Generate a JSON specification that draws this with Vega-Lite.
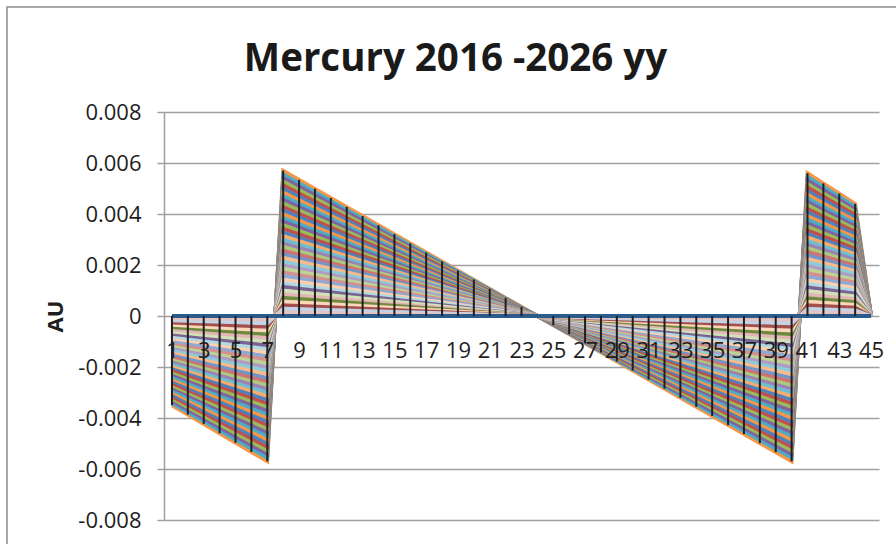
{
"$schema": "https://vega.github.io/schema/vega-lite/v6.json",
"width": 893,
"height": 541,
"autosize": {"type": "none"},
"padding": {"left": 7, "top": 7, "right": -4, "bottom": -4},
"background": "white",
"config": {"view": {"stroke": "#8c8c8c", "strokeWidth": 1.5, "fill": "white"}, "font": "Open Sans"},
"title": {"text": "Mercury 2016 -2026 yy", "font": "Open Sans", "fontSize": 38.5, "fontWeight": "bold", "color": "#1a1a1a", "anchor": "middle", "frame": "group", "offset": -72, "dx": 2},
"datasets": {
"baseline": [{"x":1,"v":0},{"x":45,"v":0}],
"series": [
{"s":"k40","x":1,"v":-0.0035},{"s":"k40","x":7,"v":-0.0057},{"s":"k40","x":8,"v":0.0057},{"s":"k40","x":40,"v":-0.0057},{"s":"k40","x":41,"v":0.0056},{"s":"k40","x":44,"v":0.0044},{"s":"k40","x":45,"v":0},
{"s":"k39","x":1,"v":-0.0034125},{"s":"k39","x":7,"v":-0.0055575},{"s":"k39","x":8,"v":0.0055575},{"s":"k39","x":40,"v":-0.0055575},{"s":"k39","x":41,"v":0.00546},{"s":"k39","x":44,"v":0.00429},{"s":"k39","x":45,"v":0},
{"s":"k38","x":1,"v":-0.003325},{"s":"k38","x":7,"v":-0.005415},{"s":"k38","x":8,"v":0.005415},{"s":"k38","x":40,"v":-0.005415},{"s":"k38","x":41,"v":0.00532},{"s":"k38","x":44,"v":0.00418},{"s":"k38","x":45,"v":0},
{"s":"k37","x":1,"v":-0.0032375},{"s":"k37","x":7,"v":-0.0052725},{"s":"k37","x":8,"v":0.0052725},{"s":"k37","x":40,"v":-0.0052725},{"s":"k37","x":41,"v":0.00518},{"s":"k37","x":44,"v":0.00407},{"s":"k37","x":45,"v":0},
{"s":"k36","x":1,"v":-0.00315},{"s":"k36","x":7,"v":-0.00513},{"s":"k36","x":8,"v":0.00513},{"s":"k36","x":40,"v":-0.00513},{"s":"k36","x":41,"v":0.00504},{"s":"k36","x":44,"v":0.00396},{"s":"k36","x":45,"v":0},
{"s":"k35","x":1,"v":-0.0030625},{"s":"k35","x":7,"v":-0.0049875},{"s":"k35","x":8,"v":0.0049875},{"s":"k35","x":40,"v":-0.0049875},{"s":"k35","x":41,"v":0.0049},{"s":"k35","x":44,"v":0.00385},{"s":"k35","x":45,"v":0},
{"s":"k34","x":1,"v":-0.002975},{"s":"k34","x":7,"v":-0.004845},{"s":"k34","x":8,"v":0.004845},{"s":"k34","x":40,"v":-0.004845},{"s":"k34","x":41,"v":0.00476},{"s":"k34","x":44,"v":0.00374},{"s":"k34","x":45,"v":0},
{"s":"k33","x":1,"v":-0.0028875},{"s":"k33","x":7,"v":-0.0047025},{"s":"k33","x":8,"v":0.0047025},{"s":"k33","x":40,"v":-0.0047025},{"s":"k33","x":41,"v":0.00462},{"s":"k33","x":44,"v":0.00363},{"s":"k33","x":45,"v":0},
{"s":"k32","x":1,"v":-0.0028},{"s":"k32","x":7,"v":-0.00456},{"s":"k32","x":8,"v":0.00456},{"s":"k32","x":40,"v":-0.00456},{"s":"k32","x":41,"v":0.00448},{"s":"k32","x":44,"v":0.00352},{"s":"k32","x":45,"v":0},
{"s":"k31","x":1,"v":-0.0027125},{"s":"k31","x":7,"v":-0.0044175},{"s":"k31","x":8,"v":0.0044175},{"s":"k31","x":40,"v":-0.0044175},{"s":"k31","x":41,"v":0.00434},{"s":"k31","x":44,"v":0.00341},{"s":"k31","x":45,"v":0},
{"s":"k30","x":1,"v":-0.002625},{"s":"k30","x":7,"v":-0.004275},{"s":"k30","x":8,"v":0.004275},{"s":"k30","x":40,"v":-0.004275},{"s":"k30","x":41,"v":0.0042},{"s":"k30","x":44,"v":0.0033},{"s":"k30","x":45,"v":0},
{"s":"k29","x":1,"v":-0.0025375},{"s":"k29","x":7,"v":-0.0041325},{"s":"k29","x":8,"v":0.0041325},{"s":"k29","x":40,"v":-0.0041325},{"s":"k29","x":41,"v":0.00406},{"s":"k29","x":44,"v":0.00319},{"s":"k29","x":45,"v":0},
{"s":"k28","x":1,"v":-0.00245},{"s":"k28","x":7,"v":-0.00399},{"s":"k28","x":8,"v":0.00399},{"s":"k28","x":40,"v":-0.00399},{"s":"k28","x":41,"v":0.00392},{"s":"k28","x":44,"v":0.00308},{"s":"k28","x":45,"v":0},
{"s":"k27","x":1,"v":-0.0023625},{"s":"k27","x":7,"v":-0.0038475},{"s":"k27","x":8,"v":0.0038475},{"s":"k27","x":40,"v":-0.0038475},{"s":"k27","x":41,"v":0.00378},{"s":"k27","x":44,"v":0.00297},{"s":"k27","x":45,"v":0},
{"s":"k26","x":1,"v":-0.002275},{"s":"k26","x":7,"v":-0.003705},{"s":"k26","x":8,"v":0.003705},{"s":"k26","x":40,"v":-0.003705},{"s":"k26","x":41,"v":0.00364},{"s":"k26","x":44,"v":0.00286},{"s":"k26","x":45,"v":0},
{"s":"k25","x":1,"v":-0.0021875},{"s":"k25","x":7,"v":-0.0035625},{"s":"k25","x":8,"v":0.0035625},{"s":"k25","x":40,"v":-0.0035625},{"s":"k25","x":41,"v":0.0035},{"s":"k25","x":44,"v":0.00275},{"s":"k25","x":45,"v":0},
{"s":"k24","x":1,"v":-0.0021},{"s":"k24","x":7,"v":-0.00342},{"s":"k24","x":8,"v":0.00342},{"s":"k24","x":40,"v":-0.00342},{"s":"k24","x":41,"v":0.00336},{"s":"k24","x":44,"v":0.00264},{"s":"k24","x":45,"v":0},
{"s":"k23","x":1,"v":-0.0020125},{"s":"k23","x":7,"v":-0.0032775},{"s":"k23","x":8,"v":0.0032775},{"s":"k23","x":40,"v":-0.0032775},{"s":"k23","x":41,"v":0.00322},{"s":"k23","x":44,"v":0.00253},{"s":"k23","x":45,"v":0},
{"s":"k22","x":1,"v":-0.001925},{"s":"k22","x":7,"v":-0.003135},{"s":"k22","x":8,"v":0.003135},{"s":"k22","x":40,"v":-0.003135},{"s":"k22","x":41,"v":0.00308},{"s":"k22","x":44,"v":0.00242},{"s":"k22","x":45,"v":0},
{"s":"k21","x":1,"v":-0.0018375},{"s":"k21","x":7,"v":-0.0029925},{"s":"k21","x":8,"v":0.0029925},{"s":"k21","x":40,"v":-0.0029925},{"s":"k21","x":41,"v":0.00294},{"s":"k21","x":44,"v":0.00231},{"s":"k21","x":45,"v":0},
{"s":"k20","x":1,"v":-0.00175},{"s":"k20","x":7,"v":-0.00285},{"s":"k20","x":8,"v":0.00285},{"s":"k20","x":40,"v":-0.00285},{"s":"k20","x":41,"v":0.0028},{"s":"k20","x":44,"v":0.0022},{"s":"k20","x":45,"v":0},
{"s":"k19","x":1,"v":-0.0016625},{"s":"k19","x":7,"v":-0.0027075},{"s":"k19","x":8,"v":0.0027075},{"s":"k19","x":40,"v":-0.0027075},{"s":"k19","x":41,"v":0.00266},{"s":"k19","x":44,"v":0.00209},{"s":"k19","x":45,"v":0},
{"s":"k18","x":1,"v":-0.001575},{"s":"k18","x":7,"v":-0.002565},{"s":"k18","x":8,"v":0.002565},{"s":"k18","x":40,"v":-0.002565},{"s":"k18","x":41,"v":0.00252},{"s":"k18","x":44,"v":0.00198},{"s":"k18","x":45,"v":0},
{"s":"k17","x":1,"v":-0.0014875},{"s":"k17","x":7,"v":-0.0024225},{"s":"k17","x":8,"v":0.0024225},{"s":"k17","x":40,"v":-0.0024225},{"s":"k17","x":41,"v":0.00238},{"s":"k17","x":44,"v":0.00187},{"s":"k17","x":45,"v":0},
{"s":"k16","x":1,"v":-0.0014},{"s":"k16","x":7,"v":-0.00228},{"s":"k16","x":8,"v":0.00228},{"s":"k16","x":40,"v":-0.00228},{"s":"k16","x":41,"v":0.00224},{"s":"k16","x":44,"v":0.00176},{"s":"k16","x":45,"v":0},
{"s":"k15","x":1,"v":-0.0013125},{"s":"k15","x":7,"v":-0.0021375},{"s":"k15","x":8,"v":0.0021375},{"s":"k15","x":40,"v":-0.0021375},{"s":"k15","x":41,"v":0.0021},{"s":"k15","x":44,"v":0.00165},{"s":"k15","x":45,"v":0},
{"s":"k14","x":1,"v":-0.001225},{"s":"k14","x":7,"v":-0.001995},{"s":"k14","x":8,"v":0.001995},{"s":"k14","x":40,"v":-0.001995},{"s":"k14","x":41,"v":0.00196},{"s":"k14","x":44,"v":0.00154},{"s":"k14","x":45,"v":0},
{"s":"k13","x":1,"v":-0.0011375},{"s":"k13","x":7,"v":-0.0018525},{"s":"k13","x":8,"v":0.0018525},{"s":"k13","x":40,"v":-0.0018525},{"s":"k13","x":41,"v":0.00182},{"s":"k13","x":44,"v":0.00143},{"s":"k13","x":45,"v":0},
{"s":"k12","x":1,"v":-0.00105},{"s":"k12","x":7,"v":-0.00171},{"s":"k12","x":8,"v":0.00171},{"s":"k12","x":40,"v":-0.00171},{"s":"k12","x":41,"v":0.00168},{"s":"k12","x":44,"v":0.00132},{"s":"k12","x":45,"v":0},
{"s":"k11","x":1,"v":-0.0009625},{"s":"k11","x":7,"v":-0.0015675},{"s":"k11","x":8,"v":0.0015675},{"s":"k11","x":40,"v":-0.0015675},{"s":"k11","x":41,"v":0.00154},{"s":"k11","x":44,"v":0.00121},{"s":"k11","x":45,"v":0},
{"s":"k10","x":1,"v":-0.000875},{"s":"k10","x":7,"v":-0.001425},{"s":"k10","x":8,"v":0.001425},{"s":"k10","x":40,"v":-0.001425},{"s":"k10","x":41,"v":0.0014},{"s":"k10","x":44,"v":0.0011},{"s":"k10","x":45,"v":0},
{"s":"k09","x":1,"v":-0.0007875},{"s":"k09","x":7,"v":-0.0012825},{"s":"k09","x":8,"v":0.0012825},{"s":"k09","x":40,"v":-0.0012825},{"s":"k09","x":41,"v":0.00126},{"s":"k09","x":44,"v":0.00099},{"s":"k09","x":45,"v":0},
{"s":"k08","x":1,"v":-0.0007},{"s":"k08","x":7,"v":-0.00114},{"s":"k08","x":8,"v":0.00114},{"s":"k08","x":40,"v":-0.00114},{"s":"k08","x":41,"v":0.00112},{"s":"k08","x":44,"v":0.00088},{"s":"k08","x":45,"v":0},
{"s":"k07","x":1,"v":-0.0006125},{"s":"k07","x":7,"v":-0.0009975},{"s":"k07","x":8,"v":0.0009975},{"s":"k07","x":40,"v":-0.0009975},{"s":"k07","x":41,"v":0.00098},{"s":"k07","x":44,"v":0.00077},{"s":"k07","x":45,"v":0},
{"s":"k06","x":1,"v":-0.000525},{"s":"k06","x":7,"v":-0.000855},{"s":"k06","x":8,"v":0.000855},{"s":"k06","x":40,"v":-0.000855},{"s":"k06","x":41,"v":0.00084},{"s":"k06","x":44,"v":0.00066},{"s":"k06","x":45,"v":0},
{"s":"k05","x":1,"v":-0.0004375},{"s":"k05","x":7,"v":-0.0007125},{"s":"k05","x":8,"v":0.0007125},{"s":"k05","x":40,"v":-0.0007125},{"s":"k05","x":41,"v":0.0007},{"s":"k05","x":44,"v":0.00055},{"s":"k05","x":45,"v":0},
{"s":"k04","x":1,"v":-0.00035},{"s":"k04","x":7,"v":-0.00057},{"s":"k04","x":8,"v":0.00057},{"s":"k04","x":40,"v":-0.00057},{"s":"k04","x":41,"v":0.00056},{"s":"k04","x":44,"v":0.00044},{"s":"k04","x":45,"v":0},
{"s":"k03","x":1,"v":-0.0002625},{"s":"k03","x":7,"v":-0.0004275},{"s":"k03","x":8,"v":0.0004275},{"s":"k03","x":40,"v":-0.0004275},{"s":"k03","x":41,"v":0.00042},{"s":"k03","x":44,"v":0.00033},{"s":"k03","x":45,"v":0},
{"s":"k02","x":1,"v":-0.000175},{"s":"k02","x":7,"v":-0.000285},{"s":"k02","x":8,"v":0.000285},{"s":"k02","x":40,"v":-0.000285},{"s":"k02","x":41,"v":0.00028},{"s":"k02","x":44,"v":0.00022},{"s":"k02","x":45,"v":0},
{"s":"k01","x":1,"v":-0.0000875},{"s":"k01","x":7,"v":-0.0001425},{"s":"k01","x":8,"v":0.0001425},{"s":"k01","x":40,"v":-0.0001425},{"s":"k01","x":41,"v":0.00014},{"s":"k01","x":44,"v":0.00011},{"s":"k01","x":45,"v":0}
],
"drops": [
{"x":1,"v":-0.0035},{"x":2,"v":-0.00387},{"x":3,"v":-0.00423},{"x":4,"v":-0.0046},{"x":5,"v":-0.00497},{"x":6,"v":-0.00533},{"x":7,"v":-0.0057},
{"x":8,"v":0.0057},{"x":9,"v":0.00534},{"x":10,"v":0.00499},{"x":11,"v":0.00463},{"x":12,"v":0.00428},{"x":13,"v":0.00392},{"x":14,"v":0.00356},{"x":15,"v":0.00321},{"x":16,"v":0.00285},{"x":17,"v":0.00249},{"x":18,"v":0.00214},{"x":19,"v":0.00178},{"x":20,"v":0.00143},{"x":21,"v":0.00107},{"x":22,"v":0.00071},{"x":23,"v":0.00036},
{"x":25,"v":-0.00036},{"x":26,"v":-0.00071},{"x":27,"v":-0.00107},{"x":28,"v":-0.00143},{"x":29,"v":-0.00178},{"x":30,"v":-0.00214},{"x":31,"v":-0.00249},{"x":32,"v":-0.00285},{"x":33,"v":-0.00321},{"x":34,"v":-0.00356},{"x":35,"v":-0.00392},{"x":36,"v":-0.00428},{"x":37,"v":-0.00463},{"x":38,"v":-0.00499},{"x":39,"v":-0.00534},{"x":40,"v":-0.0057},
{"x":41,"v":0.0056},{"x":42,"v":0.0052},{"x":43,"v":0.0048},{"x":44,"v":0.0044}
]
},
"layer": [
{
"data": {"name": "series"},
"mark": {"type": "line", "strokeWidth": 3.8, "interpolate": "linear", "opacity": 1, "strokeOpacity": 1},
"encoding": {
"x": {"field": "x", "type": "quantitative",
"scale": {"domain": [0.5, 45.5], "range": [157, 872], "nice": false, "zero": false},
"axis": {"values": [1,3,5,7,9,11,13,15,17,19,21,23,25,27,29,31,33,35,37,39,41,43,45], "title": null, "orient": "bottom", "offset": -232, "domain": false, "ticks": false, "tickSize": 0, "grid": false, "labelPadding": 24, "labelFontSize": 22, "labelFont": "Open Sans", "labelColor": "#1e1e1e", "labelOverlap": false, "labelFlush": false, "format": "d", "zindex": 1}},
"y": {"field": "v", "type": "quantitative",
"scale": {"domain": [-0.008, 0.008], "range": [513, 105], "nice": false, "zero": false},
"axis": {"values": [-0.008,-0.006,-0.004,-0.002,0,0.002,0.004,0.006,0.008], "title": "AU", "titleFont": "Open Sans", "titleFontSize": 22, "titleFontWeight": "bold", "titleColor": "#1e1e1e", "titlePadding": 10, "offset": -157, "grid": true, "gridColor": "#a0a0a0", "gridWidth": 1.5, "domainColor": "#a0a0a0", "domainWidth": 1.5, "tickColor": "#a0a0a0", "tickWidth": 1.5, "tickSize": 7, "labelPadding": 16, "labelFontSize": 22, "labelFont": "Open Sans", "labelColor": "#1e1e1e", "labelOverlap": false, "labelFlush": false, "labelExpr": "datum.value == 0 ? '0' : (datum.value < 0 ? '-' + format(-datum.value, '.3f') : format(datum.value, '.3f'))"}},
"color": {"field": "s", "type": "nominal", "legend": null,
"scale": {
"domain": ["k40","k39","k38","k37","k36","k35","k34","k33","k32","k31","k30","k29","k28","k27","k26","k25","k24","k23","k22","k21","k20","k19","k18","k17","k16","k15","k14","k13","k12","k11","k10","k09","k08","k07","k06","k05","k04","k03","k02","k01"],
"range": ["#F79646","#4BACC6","#8064A2","#9BBB59","#C0504D","#4F81BD","#F79646","#4BACC6","#8064A2","#9BBB59","#C0504D","#4F81BD","#F79646","#4BACC6","#8064A2","#9BBB59","#C0504D","#4F81BD","#F9AB6B","#6FBDD1","#9983B5","#AFC97A","#CD7371","#7295CA","#FABA8A","#8DCBDA","#AD9CC3","#BFD395","#D58F8D","#8EA9D3","#FCCFAF","#B0D9E4","#7A6496","#D2E1B8","#E3B5B4","#6E8A3C","#FCD7BA","#A5504E","#C2D2E7","#E4C3C3"]
}}
}
},
{
"data": {"name": "baseline"},
"mark": {"type": "line", "color": "#2B5B8B", "strokeWidth": 4},
"encoding": {
"x": {"field": "x", "type": "quantitative"},
"y": {"field": "v", "type": "quantitative"}
}
},
{
"data": {"name": "drops"},
"mark": {"type": "rule", "color": "#1f1f1f", "strokeWidth": 2},
"encoding": {
"x": {"field": "x", "type": "quantitative"},
"y": {"field": "v", "type": "quantitative"},
"y2": {"datum": 0}
}
}
]
}
